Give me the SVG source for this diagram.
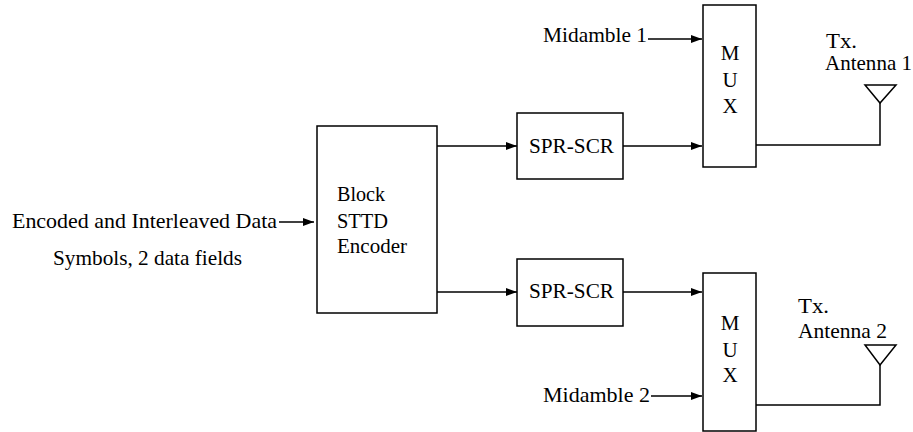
<svg xmlns="http://www.w3.org/2000/svg" width="913" height="432" viewBox="0 0 913 432">
<defs>
<style>
.box{fill:#fff;stroke:#000;stroke-width:1.5}
.ln{fill:none;stroke:#000;stroke-width:1.5}
.t{font-family:"Liberation Serif","Times New Roman",serif;font-size:21px;fill:#000}
.mt{font-family:"Liberation Serif","Times New Roman",serif;font-size:21px;fill:#000;text-anchor:middle}
</style>
<marker id="ah" markerWidth="11" markerHeight="8" refX="11" refY="4" orient="auto" markerUnits="userSpaceOnUse">
<path d="M0,0 L11,4 L0,8 Z" fill="#000"/>
</marker>
</defs>
<rect width="913" height="432" fill="#fff"/>
<g id="connectors">
<line class="ln" x1="279" y1="222" x2="314" y2="222" marker-end="url(#ah)"/>
<line class="ln" x1="437" y1="146" x2="517" y2="146" marker-end="url(#ah)"/>
<line class="ln" x1="437" y1="292" x2="517" y2="292" marker-end="url(#ah)"/>
<line class="ln" x1="623" y1="146" x2="702" y2="146" marker-end="url(#ah)"/>
<line class="ln" x1="623" y1="292" x2="702" y2="292" marker-end="url(#ah)"/>
<line class="ln" x1="648" y1="39" x2="702" y2="39" marker-end="url(#ah)"/>
<line class="ln" x1="651" y1="396" x2="702" y2="396" marker-end="url(#ah)"/>
<polyline class="ln" points="756,145 880,145 880,103"/>
<polyline class="ln" points="756,405 880,405 880,365"/>
</g>
<g id="input-label">
<text class="t" x="12" y="228" textLength="265" lengthAdjust="spacingAndGlyphs">Encoded and Interleaved Data</text>
<text class="t" x="53" y="265" textLength="189" lengthAdjust="spacingAndGlyphs">Symbols, 2 data fields</text>
</g>
<g id="stbc">
<rect class="box" x="317" y="126" width="120" height="187"/>
<text class="t" x="337" y="201" textLength="48" lengthAdjust="spacingAndGlyphs">Block</text>
<text class="t" x="337" y="228" textLength="51" lengthAdjust="spacingAndGlyphs">STTD</text>
<text class="t" x="337" y="253" textLength="70" lengthAdjust="spacingAndGlyphs">Encoder</text>
</g>
<g id="sprscr1">
<rect class="box" x="517" y="113" width="106" height="66"/>
<text class="t" x="529" y="153" textLength="85" lengthAdjust="spacingAndGlyphs">SPR-SCR</text>
</g>
<g id="sprscr2">
<rect class="box" x="517" y="259" width="106" height="67"/>
<text class="t" x="529" y="298" textLength="85" lengthAdjust="spacingAndGlyphs">SPR-SCR</text>
</g>
<g id="mux1">
<rect class="box" x="703" y="5" width="53" height="162"/>
<text class="mt" x="730" y="60">M</text>
<text class="mt" x="730" y="87">U</text>
<text class="mt" x="730" y="113">X</text>
</g>
<g id="mux2">
<rect class="box" x="703" y="273" width="53" height="158"/>
<text class="mt" x="730" y="330">M</text>
<text class="mt" x="730" y="357">U</text>
<text class="mt" x="730" y="382">X</text>
</g>
<g id="midamble1">
<text class="t" x="543" y="42" textLength="104" lengthAdjust="spacingAndGlyphs">Midamble 1</text>
</g>
<g id="midamble2">
<text class="t" x="543" y="402" textLength="107" lengthAdjust="spacingAndGlyphs">Midamble 2</text>
</g>
<g id="antenna1">
<polygon class="ln" points="865,85 896,85 880,103"/>
<text class="t" x="826" y="48" textLength="31" lengthAdjust="spacingAndGlyphs">Tx.</text>
<text class="t" x="825" y="70" textLength="87" lengthAdjust="spacingAndGlyphs">Antenna 1</text>
</g>
<g id="antenna2">
<polygon class="ln" points="865,345 896,345 880,365"/>
<text class="t" x="798" y="313" textLength="31" lengthAdjust="spacingAndGlyphs">Tx.</text>
<text class="t" x="798" y="338" textLength="89" lengthAdjust="spacingAndGlyphs">Antenna 2</text>
</g>
</svg>
